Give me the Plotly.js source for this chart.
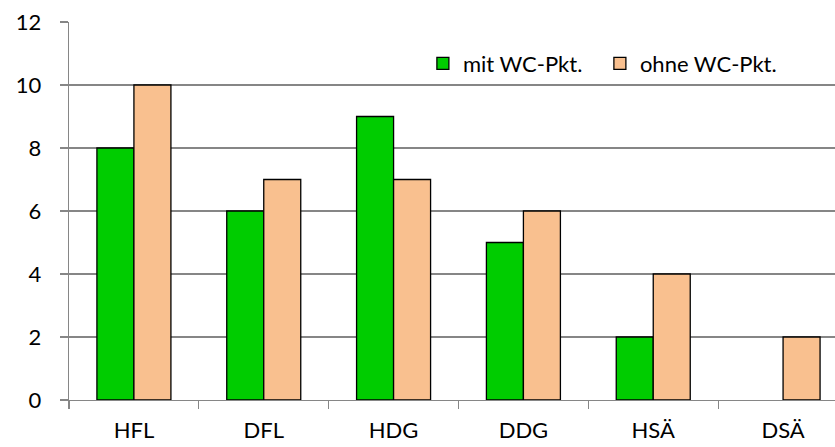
<!DOCTYPE html>
<html>
<head>
<meta charset="utf-8">
<script src="https://cdn.plot.ly/plotly-3.0.1.min.js"></script>
<style>html,body{margin:0;padding:0;background:#fff;}#chart{width:835px;height:447px;}</style>
</head>
<body>
<div id="chart"></div>
<script>
const categories = ["HFL", "DFL", "HDG", "DDG", "HSÄ", "DSÄ"];
const mitWC = [8, 6, 9, 5, 2, 0];
const ohneWC = [10, 7, 7, 6, 4, 2];
const seriesNames = ["mit WC-Pkt.", "ohne WC-Pkt."];
const yTicks = [0, 2, 4, 6, 8, 10, 12];

const fontFam = "Lato, 'Open Sans', sans-serif";
const outline = vals => vals.map(v => (v === 0 ? 0 : 1.3));
const traces = [
  {type: "bar", name: seriesNames[0], x: categories, y: mitWC,
   marker: {color: "#00cc00", line: {color: "#000000", width: outline(mitWC)}}},
  {type: "bar", name: seriesNames[1], x: categories, y: ohneWC,
   marker: {color: "#f9c08f", line: {color: "#000000", width: outline(ohneWC)}}}
];
const layout = {
  width: 835, height: 447,
  margin: {l: 69, r: 0, t: 22, b: 47, pad: 0},
  paper_bgcolor: "#ffffff", plot_bgcolor: "#ffffff",
  barmode: "group", bargap: 0.43, bargroupgap: 0,
  font: {family: fontFam, size: 22, color: "#000000"},
  showlegend: true,
  legend: {orientation: "h", x: 0.462, y: 0.89, xanchor: "left", yanchor: "middle",
           font: {family: fontFam, size: 22, color: "#000000"}, bgcolor: "rgba(0,0,0,0)",
           entrywidth: 132, traceorder: "normal"},
  xaxis: {type: "category", range: [-0.5, 5.4], tickson: "boundaries",
          ticks: "outside", ticklen: 8, tickcolor: "#868686", tickwidth: 1.3,
          showline: true, linecolor: "#868686", linewidth: 1.3,
          showgrid: false, zeroline: false, ticklabelstandoff: 10,
          tickfont: {family: fontFam, size: 22, color: "#000000"}},
  yaxis: {range: [0, 12], tickvals: yTicks, ticktext: yTicks.map(String),
          ticks: "outside", ticklen: 8, tickcolor: "#868686", tickwidth: 1.3,
          showline: true, linecolor: "#868686", linewidth: 1.3,
          showgrid: true, gridcolor: "#868686", gridwidth: 1.3, zeroline: false,
          ticklabelstandoff: 14,
          tickfont: {family: fontFam, size: 22, color: "#000000"}}
};
Plotly.newPlot("chart", traces, layout, {displayModeBar: false, staticPlot: true});
</script>
</body>
</html>
